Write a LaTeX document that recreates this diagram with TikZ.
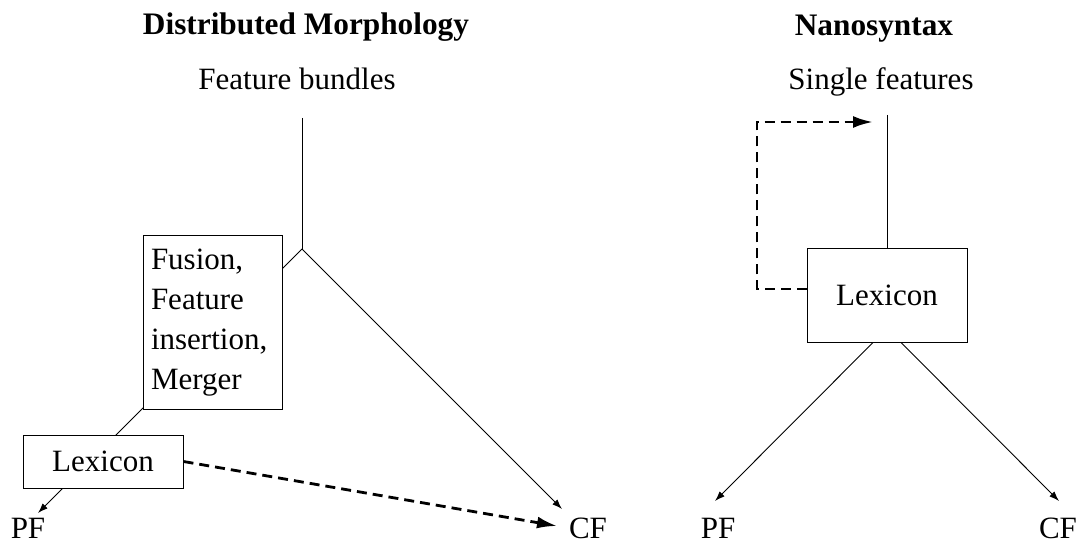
\documentclass[tikz,border=0pt]{standalone}
\usepackage{fontspec}
\setmainfont{Liberation Serif}
\usetikzlibrary{arrows.meta}
\pgfdeclarelayer{bg}
\pgfsetlayers{bg,main}
\begin{document}
\begin{tikzpicture}[x=1pt,y=-1pt,
  font=\fontsize{31}{40}\selectfont,
  title/.style={anchor=base,font=\fontsize{31.3}{36}\selectfont\bfseries,inner sep=0pt},
  lbl/.style={anchor=base,inner sep=0pt},
  box/.style={draw,fill=white,line width=1pt,inner sep=0pt},
  arr/.style={line width=0.9pt,-{Latex[length=10pt,width=7pt]}},
  dasharr/.style={line width=2.8pt,dash pattern=on 10pt off 6pt,-{Latex[length=20pt,width=12pt]}},
  plain/.style={line width=0.9pt}]
\useasboundingbox (0,0) rectangle (1079,545);
% left diagram
\node[title] (dmt) at (306,35) {Distributed Morphology};
\node[lbl] (fb) at (297,90) {Feature bundles};
\coordinate (top1) at (302,118);
\coordinate (j) at (302,249);
\node[box,minimum width=139pt,minimum height=173pt,text width=123pt,inner xsep=8pt,align=left] (fus) at (212.5,322.5) {Fusion,\\Feature\\insertion,\\Merger};
\node[box,minimum width=160pt,minimum height=53pt] (lex1) at (103,461.5) {Lexicon};
\node[lbl] (pf1) at (28,538) {PF};
\node[lbl] (cf1) at (588,538) {CF};
\coordinate (pftip1) at (38,513);
\coordinate (cftip1) at (562,509);
\coordinate (dtip1) at (557,526);
\draw[plain] (top1) -- (j);
\begin{pgfonlayer}{bg}
\draw[arr] (j) -- (pftip1);
\end{pgfonlayer}
\draw[arr] (j) -- (cftip1);
\draw[dasharr] (lex1.east) -- (dtip1);
% right diagram
\node[title] (nst) at (874,36) {Nanosyntax};
\node[lbl] (sf) at (881,90) {Single features};
\coordinate (top2) at (887,115);
\node[box,minimum width=160pt,minimum height=93pt] (lex2) at (887,295.5) {Lexicon};
\node[lbl] (pf2) at (718,538) {PF};
\node[lbl] (cf2) at (1058,538) {CF};
\coordinate (pftip2) at (715,501);
\coordinate (cftip2) at (1059,501);
\coordinate (lc) at (757,122);
\coordinate (ltip) at (873,122);
\draw[plain] (top2) -- (lex2.north);
\draw[dasharr] ([yshift=6.5pt]lex2.west) -| (lc) -- (ltip);
\draw[arr] ([xshift=-14pt]lex2.south) -- (pftip2);
\draw[arr] ([xshift=14pt]lex2.south) -- (cftip2);
\end{tikzpicture}
\end{document}
